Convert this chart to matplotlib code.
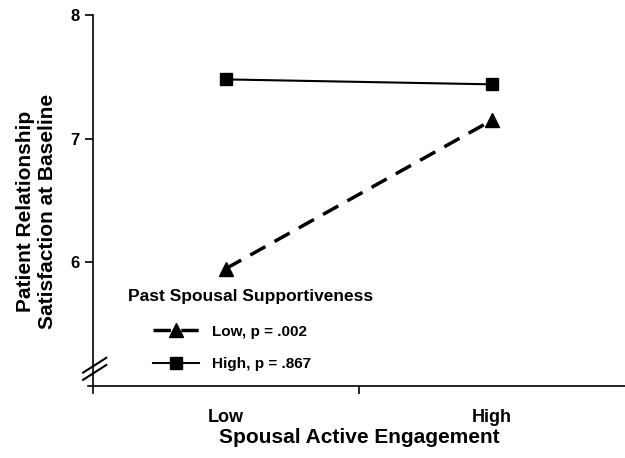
import matplotlib
matplotlib.use('Agg')
import matplotlib.pyplot as plt

plt.rcParams['font.family'] = ['Liberation Sans', 'DejaVu Sans']
plt.rcParams['font.weight'] = 'bold'

# data
engagement = ['Low', 'High']
x_pos = [1, 3]
support_low = [5.95, 7.15]
support_high = [7.48, 7.44]
labels = ['Low, p = .002', 'High, p = .867']

fig = plt.figure(figsize=(6.25, 4.58), dpi=100)
ax = fig.add_axes([0.1403, 0.141, 0.8597, 0.826])

ax.plot(x_pos, support_low, color='black', linestyle=(0, (5, 3)), linewidth=2.5,
        marker='^', markersize=10, label=labels[0])
ax.plot(x_pos, support_high, color='black', linestyle='-', linewidth=1.5,
        marker='s', markersize=9, label=labels[1])

ax.set_xlim(-0.04, 4)
ax.set_ylim(4.94, 8)
ax.spines['top'].set_visible(False)
ax.spines['right'].set_visible(False)
ax.spines['bottom'].set_position(('data', 5.0))
ax.spines['left'].set_position(('data', 0))
for s in ('left', 'bottom'):
    ax.spines[s].set_linewidth(1.2)

ax.set_yticks([6, 7, 8])
ax.set_yticklabels(['6', '7', '8'], fontsize=12, fontweight='bold')
ax.set_xticks([2])
ax.set_xticklabels([''])
ax.tick_params(axis='both', direction='out', length=6, width=1.2)
for xp, name in zip(x_pos, engagement):
    ax.text(xp, 4.745, name, ha='center', va='center', fontsize=13, fontweight='bold')

ax.text(2, 4.58, 'Spousal Active Engagement', ha='center', va='center',
        fontsize=15, fontweight='bold')
ax.set_ylabel('Patient Relationship\nSatisfaction at Baseline', fontsize=15,
              fontweight='bold')
ax.yaxis.set_label_coords(-0.057, 0.482)

# axis break marks
for dy in (0, 0.058):
    ax.plot([-0.075, 0.1], [5.05 + dy, 5.17 + dy], color='black', linewidth=1.5,
            clip_on=False)

ax.text(0.075, 0.257, 'Past Spousal Supportiveness', transform=ax.transAxes,
        ha='left', va='center', fontsize=12.5, fontweight='bold')
leg = ax.legend(loc='upper left', bbox_to_anchor=(0.1216, 0.182), frameon=False,
                prop={'size': 11, 'weight': 'bold'}, handlelength=3,
                handletextpad=0.85, labelspacing=1.2, borderpad=0,
                borderaxespad=0)

fig.savefig('out.png', dpi=100)
